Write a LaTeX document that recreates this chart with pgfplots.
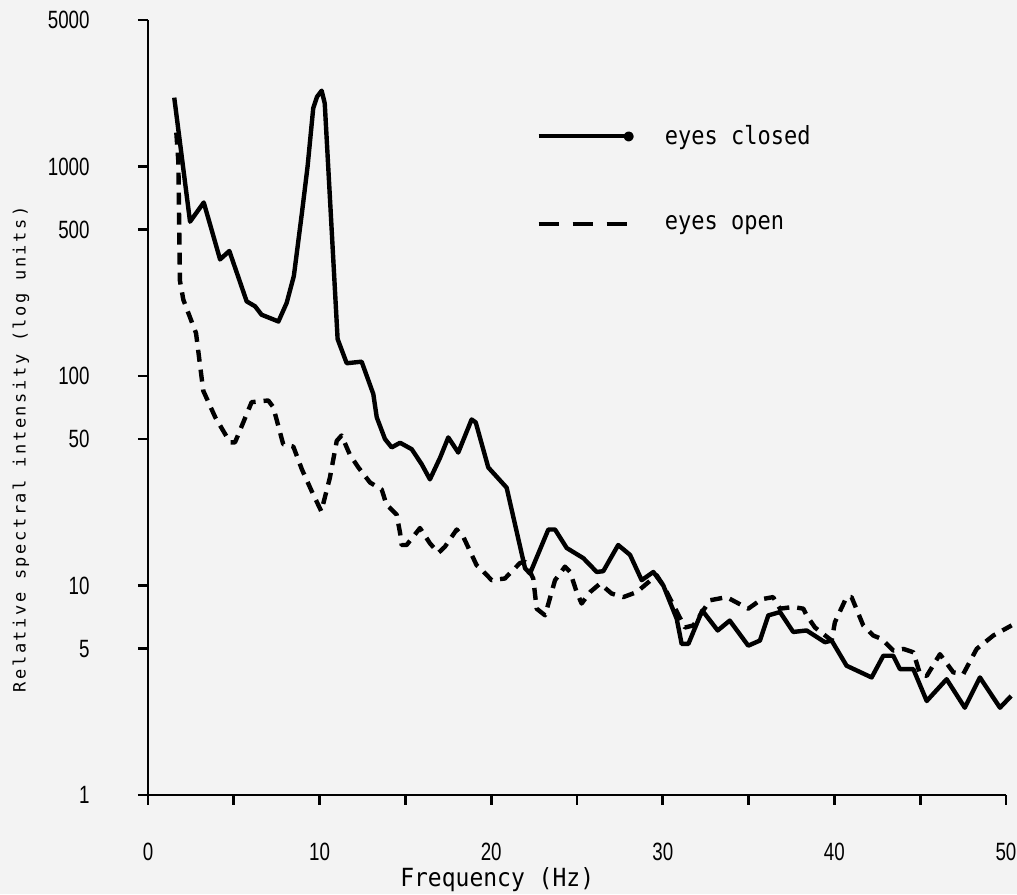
\documentclass[border=0pt]{standalone}
\usepackage{fontspec}
\usepackage{pgfplots}
\pgfplotsset{compat=1.18}
\setmainfont{Liberation Sans}
\definecolor{bgc}{RGB}{243,243,243}
\newfontfamily\tickfont[FakeStretch=0.75]{Liberation Sans}
\newfontfamily\monofont[FakeStretch=0.88]{DejaVu Sans Mono}
\newfontfamily\xlabfont[FakeStretch=0.92]{DejaVu Sans Mono}
\newfontfamily\ylabfont[LetterSpace=15]{DejaVu Sans Mono}

\begin{document}
\begin{tikzpicture}
\path[use as bounding box, fill=bgc] (-74pt,-49.5pt) rectangle (434.5pt,397.5pt);
\begin{axis}[
  at={(0,0)}, anchor=south west,
  scale only axis, width=429pt, height=387.5pt,
  xmin=0, xmax=50, ymin=1, ymax=5000, ymode=log,
  clip=false,
  axis lines*=left,
  axis line style={line width=1.4pt},
  tick align=outside, major tick length=5pt,
  tick style={line width=1.4pt, black},
  xtick={0,5,...,50}, xticklabels={0,,10,,20,,30,,40,,50},
  ytick={1,5,10,50,100,500,1000,5000},
  yticklabels={1,5,10,50,100,500,1000,5000},
  yminorticks=false, xminorticks=false,
  /pgf/number format/assume math mode=true,
  xticklabel style={font=\tickfont\fontsize{12.5}{14}\selectfont, anchor=center, inner sep=0pt, yshift=-23.5pt},
  yticklabel style={font=\tickfont\fontsize{12.5}{14}\selectfont, anchor=east, inner sep=0pt, xshift=-24pt},
  xlabel={Frequency (Hz)},
  xlabel style={at={(axis description cs:0.407,-0.093)}, anchor=north, inner sep=0pt, font=\xlabfont\fontsize{12.5}{14}\selectfont},
  ylabel={Relative spectral intensity (log units)},
  ylabel style={at={(axis description cs:-0.148,0.446)}, anchor=center, inner sep=0pt, font=\ylabfont\fontsize{8.5}{10}\selectfont},
  legend style={draw=none, fill=none, inner sep=0pt, outer sep=0pt,
    at={(axis description cs:0.453,0.864)}, anchor=north west,
    row sep=34pt, column sep=0pt,
    font=\monofont\fontsize{12.5}{14}\selectfont,
    nodes={inner sep=0pt}},
  legend cell align=left,
]
\addplot[black, line width=2.2pt, line join=round,
  legend image code/.code={\draw[black, line width=2pt] (0pt,0pt) -- (45pt,0pt); \fill[black] (45pt,0pt) circle (1.4pt); \path (62pt,0pt);}]
  table {
x y
1.53 2130
2.45 545
3.25 673
4.2 360
4.74 395
5.75 227
6.24 215
6.62 196
7.6 182
8.08 223
8.5 300
8.97 600
9.3 1000
9.63 1900
9.85 2150
10.12 2300
10.3 2000
10.65 600
11.05 150
11.58 115
12.45 117
13.13 82
13.33 63.5
13.81 50
14.2 45.6
14.69 48
15.37 44.7
15.95 37.9
16.43 32.1
17.02 40.7
17.5 50.9
18.08 43.1
18.86 62
19.1 60
19.83 36.6
20.9 29.3
21.97 12.1
22.26 11.4
23.33 18.5
23.72 18.5
24.4 15.1
25.37 13.5
26.15 11.6
26.53 11.7
27.4 15.6
28.09 14.0
28.77 10.6
29.45 11.6
30.03 10.0
30.81 6.94
31.1 5.26
31.49 5.26
32.3 7.6
33.2 6.1
33.9 6.8
34.98 5.16
35.66 5.46
36.15 7.2
36.83 7.47
37.6 6.0
38.38 6.1
39.45 5.36
39.84 5.46
40.71 4.14
42.17 3.64
42.85 4.62
43.43 4.62
43.82 3.99
44.6 3.99
45.38 2.81
46.54 3.57
47.6 2.61
48.48 3.64
49.65 2.61
50.3 2.97
};
\addlegendentry{eyes closed}
\addplot[black, line width=2.2pt, line join=round, dash pattern=on 6pt off 4pt,
  legend image code/.code={\draw[black, line width=2pt, dash pattern=on 10pt off 7pt] (0pt,0pt) -- (45pt,0pt); \path (62pt,0pt);}]
  table {
x y
1.65 1450
1.77 1050
1.86 285
2.06 231
2.8 160
3.22 85
3.92 63.5
4.78 48.2
5.07 48.2
6.04 75
7.01 76.4
7.3 71
7.88 47.2
8.47 46
8.97 35.8
9.54 28.2
10.1 22.6
10.6 32.7
11.0 49
11.28 52
11.77 42
12.26 36.6
12.94 31
13.62 28.7
13.9 24.3
14.49 21.8
14.69 17.8
14.78 15.6
15.07 15.6
15.85 18.8
16.43 15.9
16.92 14.3
17.3 15.3
17.99 18.5
18.37 17.1
19.15 12.5
19.35 12.1
20.03 10.6
20.8 10.8
21.68 12.8
21.97 13.0
22.45 10.8
22.65 7.75
23.14 7.2
23.72 10.6
24.3 12.3
24.6 11.6
24.98 9.3
25.27 8.2
25.76 9.3
26.34 10.2
27.02 9.15
27.7 8.8
28.48 9.3
29.06 10.2
29.64 11.2
30.03 10.0
31.29 6.3
31.78 6.45
32.75 8.5
33.72 8.8
34.98 7.75
35.76 8.6
36.43 8.8
36.83 7.75
37.6 7.9
38.19 7.75
38.38 7.2
38.87 6.3
39.84 5.46
40.03 6.68
40.71 8.8
41.0 8.8
41.68 6.45
42.26 5.77
42.75 5.56
43.43 4.89
44.02 4.98
44.6 4.8
44.99 3.78
45.38 3.7
46.15 4.7
46.93 3.85
47.51 3.78
48.29 4.98
49.26 5.77
50.33 6.45
};
\addlegendentry{eyes open}
\end{axis}
\end{tikzpicture}
\end{document}
